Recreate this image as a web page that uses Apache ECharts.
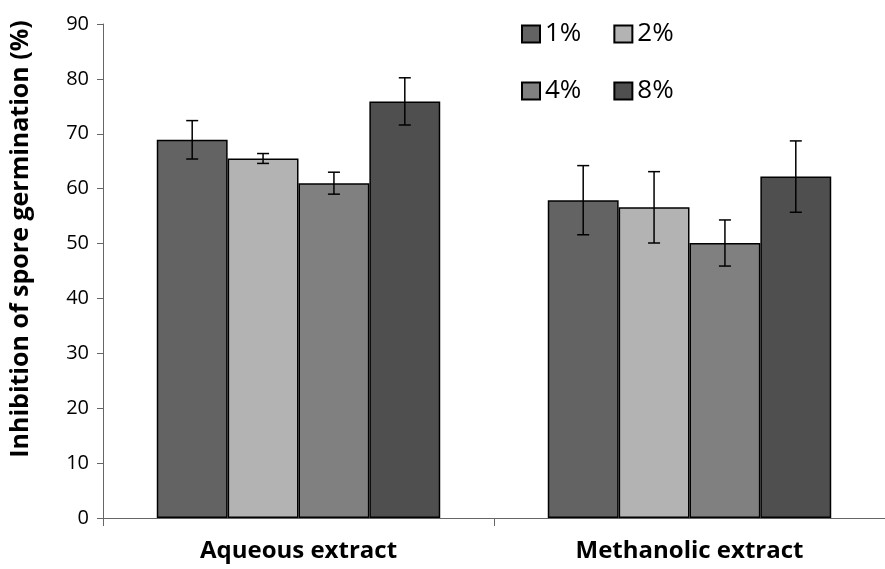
<!DOCTYPE html>
<html><head><meta charset="utf-8">
<script src="https://cdn.jsdelivr.net/npm/echarts@6/dist/echarts.min.js"></script>
<style>html,body{margin:0;padding:0;background:#fff}#c{width:885px;height:569px}</style>
</head><body><div id="c"></div>
<script>
var categories = ['Aqueous extract', 'Methanolic extract'];
var seriesNames = ['1%', '2%', '4%', '8%'];
var values1 = [68.9, 57.9];
var values2 = [65.5, 56.6];
var values4 = [61.0, 50.1];
var values8 = [75.9, 62.2];
var err1 = [3.5, 6.3];
var err2 = [0.9, 6.5];
var err4 = [2.0, 4.2];
var err8 = [4.3, 6.5];
var yTicks = [0, 10, 20, 30, 40, 50, 60, 70, 80, 90];

var colors = ['#636363', '#b3b3b3', '#808080', '#4f4f4f'];
var allVals = [values1, values2, values4, values8];
var allErr = [err1, err2, err4, err8];
var catGap = 0.275;
var FONT = '"Open Sans", "Noto Sans", sans-serif';

var chart = echarts.init(document.getElementById('c'));
var series = [];
seriesNames.forEach(function (n, i) {
  series.push({
    name: n, type: 'bar', data: allVals[i], barGap: '0%', barCategoryGap: (catGap * 100) + '%',
    itemStyle: { color: colors[i], borderColor: '#000', borderWidth: 1.5 }
  });
});
seriesNames.forEach(function (n, i) {
  series.push({
    type: 'custom', silent: true, z: 10,
    data: allVals[i].map(function (v, j) { return [j, v - allErr[i][j], v + allErr[i][j]]; }),
    renderItem: function (params, api) {
      var band = api.size([1, 0])[0];
      var bw = band * (1 - catGap) / 4;
      var off = (i - 1.5) * bw;
      var lo = api.coord([api.value(0), api.value(1)]);
      var hi = api.coord([api.value(0), api.value(2)]);
      var x = lo[0] + off;
      var cap = 6;
      var st = { stroke: '#000', lineWidth: 1.5 };
      return { type: 'group', children: [
        { type: 'line', shape: { x1: x, y1: hi[1], x2: x, y2: lo[1] }, style: st },
        { type: 'line', shape: { x1: x - cap, y1: hi[1], x2: x + cap, y2: hi[1] }, style: st },
        { type: 'line', shape: { x1: x - cap, y1: lo[1], x2: x + cap, y2: lo[1] }, style: st }
      ]};
    }
  });
});

var legendText = { fontSize: 26, color: '#000', fontFamily: FONT };
chart.setOption({
  animation: false,
  backgroundColor: '#fff',
  textStyle: { fontFamily: FONT },
  grid: { left: 101, top: 24, bottom: 51, right: -10, containLabel: false },
  legend: [
    { data: ['1%', '2%'], left: 516, top: 16, itemWidth: 18, itemHeight: 17, itemGap: 32, icon: 'rect',
      textStyle: legendText },
    { data: ['4%', '8%'], left: 516, top: 73, itemWidth: 18, itemHeight: 17, itemGap: 32, icon: 'rect',
      textStyle: legendText }
  ],
  xAxis: {
    type: 'category', data: categories,
    axisLine: { lineStyle: { color: '#666', width: 1 } },
    axisTick: { show: true, length: 8, lineStyle: { color: '#666' } },
    axisLabel: { fontSize: 24, fontWeight: 'bold', color: '#000', margin: 21, fontFamily: FONT }
  },
  yAxis: {
    type: 'value', min: 0, max: 90, interval: 10,
    name: 'Inhibition of spore germination (%)', nameLocation: 'middle', nameGap: 70,
    nameTextStyle: { fontSize: 25, fontWeight: 'bold', color: '#000', fontFamily: FONT, padding: [0, 0, 0, 64] },
    axisLine: { show: true, lineStyle: { color: '#666', width: 1 } },
    axisTick: { show: true, length: 6, lineStyle: { color: '#666' } },
    axisLabel: { fontSize: 20, color: '#000', margin: 14, fontFamily: FONT,
      formatter: function (v) { return yTicks.indexOf(v) >= 0 ? String(v) : ''; } },
    splitLine: { show: false }
  },
  series: series
});
</script></body></html>
